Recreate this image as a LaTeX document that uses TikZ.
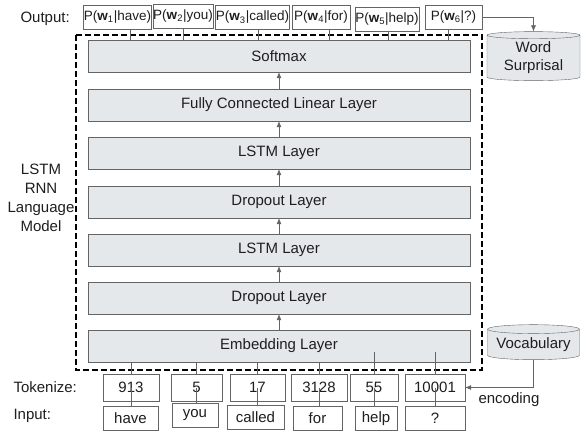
\documentclass[tikz,border=0pt]{standalone}
\usepackage{fontspec}
\setmainfont{Liberation Sans}
\usetikzlibrary{arrows.meta,shapes.geometric}

\definecolor{layerfill}{RGB}{229,232,235}
\definecolor{edgegray}{RGB}{100,100,100}
\definecolor{inkgray}{RGB}{30,30,30}

\tikzset{
  layer/.style={draw=edgegray, fill=layerfill, minimum width=382pt, minimum height=32pt, inner sep=0pt},
  probbox/.style={draw=edgegray, fill=white, minimum height=24pt, inner sep=0.5pt, font=\fontsize{13.5}{15}\selectfont},
  tokbox/.style={draw=edgegray, fill=white, minimum height=27pt, inner sep=0pt},
  wordbox/.style={draw=edgegray, fill=white, minimum height=24pt, inner sep=0pt},
  store/.style={draw=edgegray, fill=layerfill, shape=cylinder, shape border rotate=90, aspect=0.12, inner sep=0pt, align=center},
  link/.style={draw=edgegray, line width=0.6pt},
  flow/.style={draw=edgegray, line width=0.6pt, -{Latex[length=6pt, width=5pt]}},
  frame/.style={draw=black, line width=1.6pt, dash pattern=on 6pt off 3pt}
}

\begin{document}
\begin{tikzpicture}[x=1pt, y=-1pt, font=\fontsize{15}{18}\selectfont, text=inkgray]
\useasboundingbox (0,0) rectangle (582,432);

\draw[frame] (76,35) rectangle (482,370);

\node[layer] (softmax) at (279,56) {Softmax};
\node[layer] (fc) at (279,105) {Fully Connected Linear Layer};
\node[layer] (lstm2) at (279,153) {LSTM Layer};
\node[layer] (drop2) at (279,202) {Dropout Layer};
\node[layer] (lstm1) at (279,250) {LSTM Layer};
\node[layer] (drop1) at (279,298) {Dropout Layer};
\node[layer] (embed) at (279,346) {Embedding Layer};

\draw[flow] (embed) -- (drop1);
\draw[flow] (drop1) -- (lstm1);
\draw[flow] (lstm1) -- (drop2);
\draw[flow] (drop2) -- (lstm2);
\draw[flow] (lstm2) -- (fc);
\draw[flow] (fc) -- (softmax);

% output probabilities
\node[anchor=west] (outlbl) at (17,19) {Output:};
\node[probbox, minimum width=67pt] (out1) at (117.5,17) {P(\textbf{w}\textsubscript{1}|have)};
\node[probbox, minimum width=60pt] (out2) at (183,16) {P(\textbf{w}\textsubscript{2}|you)};
\node[probbox, minimum width=71pt] (out3) at (252.5,17.5) {P(\textbf{w}\textsubscript{3}|called)};
\node[probbox, minimum width=58pt] (out4) at (321,17) {P(\textbf{w}\textsubscript{4}|for)};
\node[probbox, minimum width=64pt] (out5) at (387,19) {P(\textbf{w}\textsubscript{5}|help)};
\node[probbox, minimum width=57pt] (out6) at (453.5,17) {P(\textbf{w}\textsubscript{6}|?)};

\draw[link] ([xshift=12.5pt]out1.south) -- ([xshift=12.5pt]out1.south |- softmax.north);
\draw[link] (out2.south) -- (out2.south |- softmax.north);
\draw[link] ([xshift=5.5pt]out3.south) -- ([xshift=5.5pt]out3.south |- softmax.north);
\draw[link] ([xshift=8pt]out4.south) -- ([xshift=8pt]out4.south |- softmax.north);
\draw[link] ([xshift=1pt]out5.south) -- ([xshift=1pt]out5.south |- softmax.north);
\draw[link] ([xshift=-5.5pt]out6.south) -- ([xshift=-5.5pt]out6.south |- softmax.north);

\node[store, minimum width=93pt, minimum height=49pt] (surprisal) at (533.5,58) {Word\\Surprisal};
\draw[flow] (out6.east) -| (surprisal.north);

\node[align=center, font=\fontsize{15}{19}\selectfont] (lmlbl) at (41,198) {LSTM\\RNN\\Language\\Model};

% tokens and words
\node[anchor=west] (toklbl) at (10,387) {Tokenize:};
\node[anchor=west] (inlbl) at (10,416) {Input:};

\node[tokbox, minimum width=56pt] (tok1) at (131,387.5) {913};
\node[tokbox, minimum width=51pt] (tok2) at (196.5,387.5) {5};
\node[tokbox, minimum width=55pt] (tok3) at (257.5,387.5) {17};
\node[tokbox, minimum width=56pt] (tok4) at (319,387.5) {3128};
\node[tokbox, minimum width=48pt] (tok5) at (374,387.5) {55};
\node[tokbox, minimum width=60pt] (tok6) at (435,387.5) {10001};

\node[wordbox, minimum width=55pt] (in1) at (130.5,418) {have};
\node[wordbox, minimum width=46pt] (in2) at (195,415.5) {you};
\node[wordbox, minimum width=57pt] (in3) at (255.5,417.5) {called};
\node[wordbox, minimum width=49pt] (in4) at (317.5,418.5) {for};
\node[wordbox, minimum width=42pt] (in5) at (376,418.5) {help};
\node[wordbox, minimum width=60pt] (in6) at (435,418.5) {?};

\draw[link] (tok1.north) -- (tok1.north |- embed.south);
\draw[link] (tok2.north) -- (tok2.north |- embed.south);
\draw[link] (tok3.north) -- (tok3.north |- embed.south);
\draw[link] (tok4.north) -- (tok4.north |- embed.south);
\draw[link] (tok5.north) -- ([yshift=10pt]tok5.north |- embed.south);
\draw[link] (tok6.north) -- ([yshift=10pt]tok6.north |- embed.south);

\draw[link] (tok1.center) -- (tok1.center |- in1.north);
\draw[link] (tok2.center) -- (tok2.center |- in2.north);
\draw[link] (tok3.center) -- (tok3.center |- in3.north);
\draw[link] (tok4.center) -- (tok4.center |- in4.north);
\draw[link] (tok5.center) -- (tok5.center |- in5.north);
\draw[link] (tok6.center) -- (tok6.center |- in6.north);

\node[store, minimum width=92pt, minimum height=35pt] (vocab) at (533.5,344.5) {Vocabulary};
\draw[flow] (vocab.south) |- (tok6.east);
\node (enc) at (509,400) {encoding};

\end{tikzpicture}
\end{document}
